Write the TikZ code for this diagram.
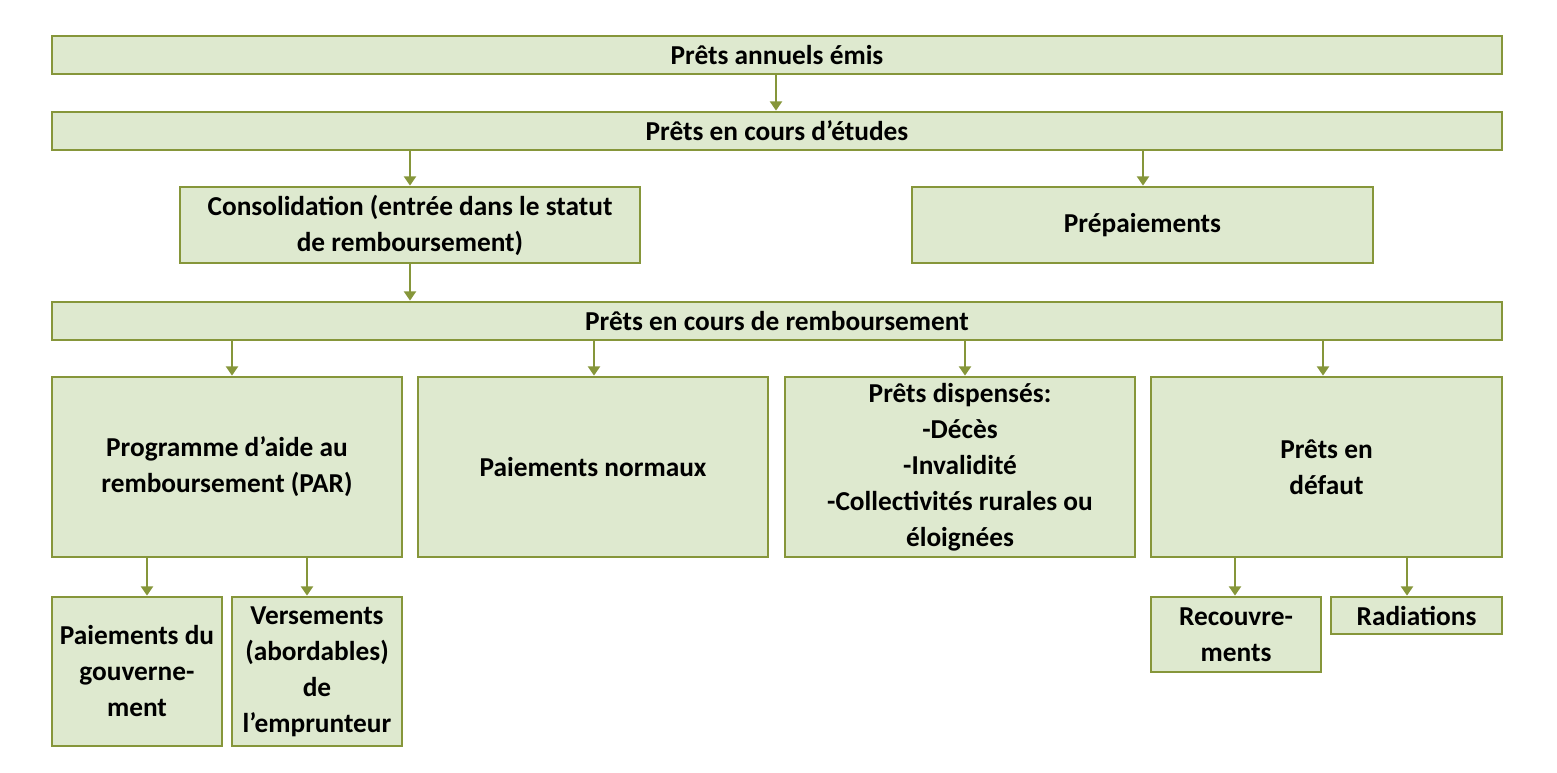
\documentclass[tikz,border=0pt]{standalone}
\usepackage{fontspec}
\setmainfont{Carlito}
\usetikzlibrary{arrows.meta}
\definecolor{bfill}{RGB}{222,233,207}
\definecolor{bdraw}{RGB}{134,150,58}
\newcommand{\apo}{\symbol{39}}
\begin{document}
\begin{tikzpicture}[x=0.75pt,y=-0.75pt,
  box/.style={draw=bdraw,fill=bfill,line width=2pt,inner sep=0pt,align=center,
    font=\fontsize{20.5}{27}\selectfont\bfseries},
  arr/.style={draw=bdraw,line width=2.2pt,-{Triangle[length=7pt,width=9pt]}}]
\useasboundingbox (0,0) rectangle (1557,773);
\newcommand{\bx}[6]{\node[box,minimum width={(#4-#2)*0.75pt},minimum height={(#5-#3)*0.75pt}] (#1) at ({(#2+#4)/2},{(#3+#5)/2}) {#6};}
\bx{a}{52}{36}{1502}{74}{Prêts annuels émis}
\bx{b}{52}{112}{1502}{150}{Prêts en cours d\apo études}
\bx{c}{180}{187}{640}{263}{Consolidation (entrée dans le statut\\de remboursement)}
\bx{d}{912}{187}{1373}{263}{Prépaiements}
\bx{e}{52}{302}{1502}{340}{Prêts en cours de remboursement}
\bx{f}{52}{377}{402}{557}{Programme d’aide au\\remboursement (PAR)}
\bx{g}{418}{377}{768}{557}{Paiements normaux}
\bx{h}{785}{377}{1135}{557}{Prêts dispensés:\\-Décès\\-Invalidité\\-Collectivités rurales ou\\éloignées}
\bx{i}{1151}{377}{1502}{557}{Prêts en\\défaut}
\bx{j}{52}{597}{222}{746}{Paiements du\\gouverne-\\ment}
\bx{k}{232}{597}{402}{746}{Versements\\(abordables)\\de\\l\apo emprunteur}
\bx{l}{1151}{597}{1321}{672}{Recouvre-\\ments}
\bx{m}{1331}{597}{1502}{634}{Radiations}
\draw[arr] (a.south -| 776,0) -- (b.north -| 776,0);
\draw[arr] (b.south -| 410,0) -- (c.north -| 410,0);
\draw[arr] (b.south -| 1143,0) -- (d.north -| 1143,0);
\draw[arr] (c.south -| 410,0) -- (e.north -| 410,0);
\draw[arr] (e.south -| 232,0) -- (f.north -| 232,0);
\draw[arr] (e.south -| 594,0) -- (g.north -| 594,0);
\draw[arr] (e.south -| 965,0) -- (h.north -| 965,0);
\draw[arr] (e.south -| 1323,0) -- (i.north -| 1323,0);
\draw[arr] (f.south -| 147,0) -- (j.north -| 147,0);
\draw[arr] (f.south -| 307,0) -- (k.north -| 307,0);
\draw[arr] (i.south -| 1235,0) -- (l.north -| 1235,0);
\draw[arr] (i.south -| 1407,0) -- (m.north -| 1407,0);
\end{tikzpicture}
\end{document}
